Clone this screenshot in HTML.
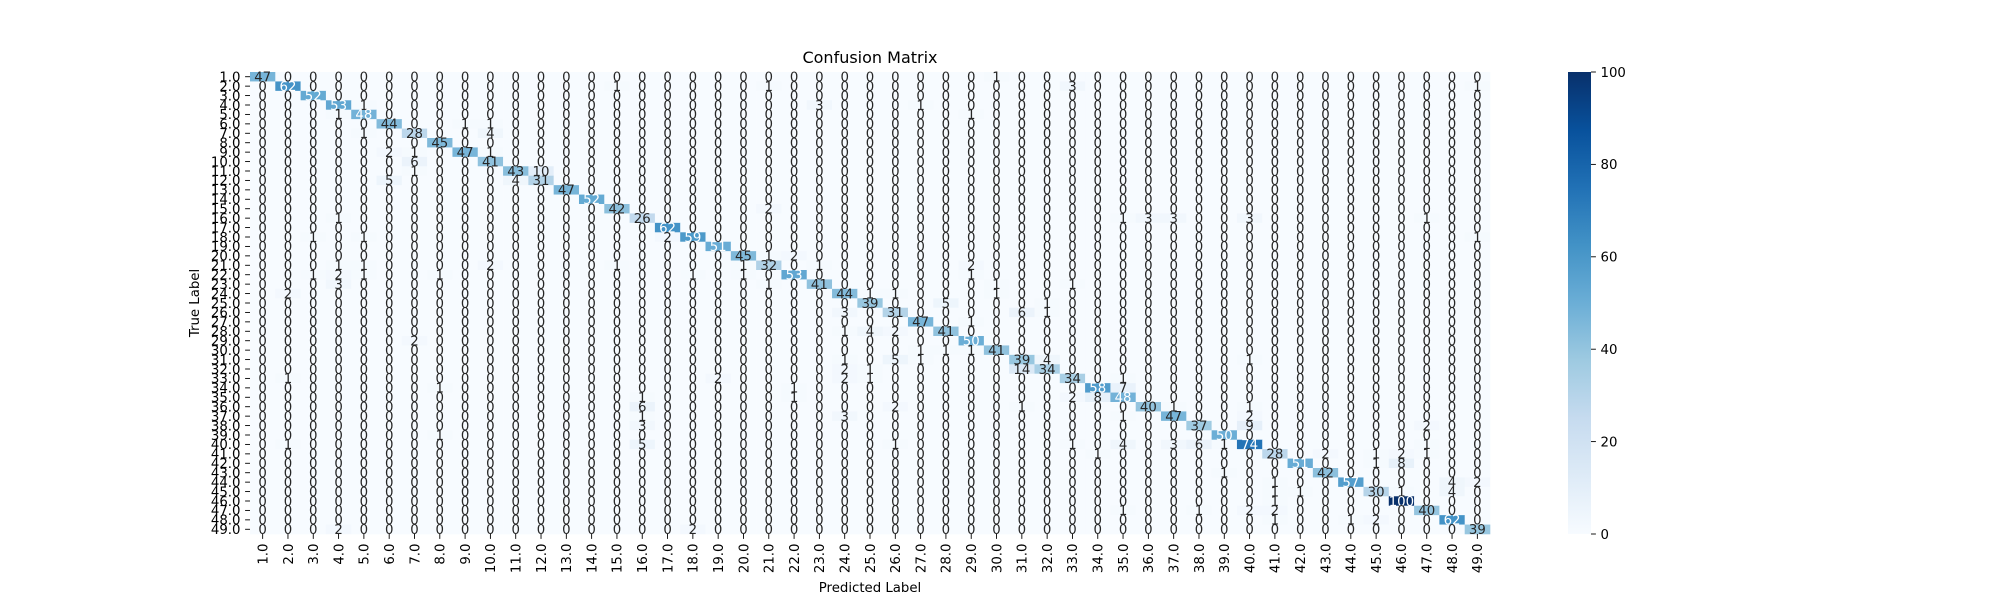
<!DOCTYPE html>
<html><head><meta charset="utf-8"><style>
html,body{margin:0;padding:0;background:#fff;}
svg{display:block;font-family:"DejaVu Sans","Liberation Sans",sans-serif;}
</style></head><body>
<svg id="chart" width="2000" height="600" viewBox="0 0 2000 600" xmlns="http://www.w3.org/2000/svg">
<text x="870" y="63" font-size="16" text-anchor="middle">Confusion Matrix</text>
<text x="870" y="592" font-size="13.3" text-anchor="middle">Predicted Label</text>
<text x="0" y="0" font-size="13.3" text-anchor="middle" transform="translate(199,303) rotate(-90)">True Label</text>
<g id="cells"></g>
<g id="annots"></g>
<g id="yticks"></g>
<g id="xticks"></g>
<g id="cbar"></g>
</svg>
<script>
const labels = [];
for (let i = 1; i <= 49; i++) labels.push(i.toFixed(1));
const diagonal = [47,62,52,53,48,44,28,45,47,41,43,31,47,52,42,26,62,59,51,45,32,53,41,44,39,31,47,41,50,41,39,34,34,58,48,40,47,37,50,74,28,51,42,57,30,100,40,62,39];
// [trueRow, predictedCol, count] (1-based)
const offDiagonal = [
[1,30,1],
[2,15,1],[2,21,1],[2,33,3],[2,49,1],
[4,5,1],[4,23,3],[4,27,1],
[5,4,1],[5,29,1],
[6,9,1],[6,10,1],
[7,5,1],[7,10,4],
[9,6,2],[9,7,1],[9,10,1],
[10,7,6],
[11,7,1],[11,12,10],
[12,6,5],[12,11,4],
[15,21,2],
[16,4,1],[16,35,1],[16,36,3],[16,37,3],[16,40,3],[16,47,1],
[18,3,1],[18,5,1],[18,17,2],[18,49,1],
[20,21,1],[20,22,2],
[21,4,1],[21,5,1],[21,10,2],[21,15,1],[21,20,1],[21,23,1],[21,29,2],
[22,3,1],[22,4,2],[22,5,1],[22,8,1],[22,18,1],[22,20,1],[22,29,1],
[23,4,3],[23,21,1],[23,30,1],[23,33,1],
[24,2,2],[24,25,1],[24,26,1],[24,30,1],
[25,28,5],[25,32,1],
[26,24,3],[26,31,6],[26,32,1],
[27,29,1],
[28,24,1],[28,25,4],[28,26,2],
[29,7,2],
[30,27,1],[30,28,1],[30,29,1],
[31,24,1],[31,26,5],[31,27,1],[31,32,4],[31,40,1],
[32,24,2],[32,25,1],[32,31,14],
[33,2,1],[33,19,2],[33,24,2],[33,25,1],[33,35,1],
[34,8,1],[34,22,1],[34,35,7],
[35,16,1],[35,22,1],[35,33,2],[35,34,8],
[36,16,6],[36,26,2],[36,31,1],[36,37,1],[36,40,1],
[37,16,1],[37,24,3],[37,35,1],[37,40,2],
[38,16,3],[38,40,9],[38,47,2],
[39,8,1],
[40,2,1],[40,16,5],[40,26,1],[40,33,1],[40,35,4],[40,37,3],[40,38,6],[40,39,1],[40,47,1],
[41,34,1],[41,43,2],[41,45,1],[41,46,2],[41,47,1],
[42,45,1],[42,46,8],
[43,39,1],
[44,41,1],[44,48,4],[44,49,2],
[45,41,1],[45,42,1],[45,46,1],[45,48,4],
[46,41,1],
[47,35,1],[47,38,1],[47,40,2],[47,41,2],
[48,41,1],[48,44,1],[48,45,2],
[49,4,2],[49,18,2]
];
const cbTicks = [0,20,40,60,80,100];
const vmin = 0, vmax = 100;

const NS = "http://www.w3.org/2000/svg";
const X0 = 250, X1 = 1490, Y0 = 72, Y1 = 534;
const n = labels.length;
const cw = (X1 - X0) / n, ch = (Y1 - Y0) / n;
const xAt = c => X0 + c * cw;
const yAt = r => Y0 + r * ch;
const stops = [[247,251,255],[222,235,247],[198,219,239],[158,202,225],[107,174,214],[66,146,198],[33,113,181],[8,81,156],[8,48,107]];
function cmap(v){
  let t = Math.max(0, Math.min(1, (v - vmin) / (vmax - vmin))) * (stops.length - 1);
  const i = Math.min(stops.length - 2, Math.floor(t)); const f = t - i;
  return stops[i].map((a, k) => Math.round(a + (stops[i+1][k] - a) * f));
}
function lum(rgb){
  const c = rgb.map(x => { x /= 255; return x <= 0.03928 ? x / 12.92 : Math.pow((x + 0.055) / 1.055, 2.4); });
  return 0.2126*c[0] + 0.7152*c[1] + 0.0722*c[2];
}
function el(tag, attrs, parent){
  const e = document.createElementNS(NS, tag);
  for (const k in attrs) e.setAttribute(k, attrs[k]);
  parent.appendChild(e); return e;
}
const M = [];
for (let r = 0; r < n; r++){ M.push(new Array(n).fill(0)); M[r][r] = diagonal[r]; }
offDiagonal.forEach(e => { if (M[e[0]-1]) M[e[0]-1][e[1]-1] = e[2]; });

const gc = document.getElementById('cells'), ga = document.getElementById('annots');
for (let r = 0; r < n; r++){
  for (let c = 0; c < n; c++){
    const v = M[r][c]; const col = cmap(v);
    const rect = el('rect', {x: xAt(c), y: yAt(r), width: cw + 0.3, height: ch + 0.3, fill: `rgb(${col.join(',')})`}, gc);
    
    
    const t = el('text', {x: xAt(c) + cw/2, y: yAt(r) + ch/2 + 4.8, 'font-size': 13.3, 'text-anchor': 'middle', fill: lum(col) > 0.408 ? '#262626' : '#ffffff'}, ga);
    
    
    t.textContent = v;
  }
}
const gy = document.getElementById('yticks'), gx = document.getElementById('xticks');
for (let i = 0; i < n; i++){
  const yc = yAt(i) + ch/2;
  el('line', {x1: X0 - 4.9, x2: X0, y1: yc, y2: yc, stroke: '#000', 'stroke-width': 0.9}, gy);
  const ty = el('text', {x: X0 - 9.5, y: yc + 4.8, 'font-size': 13.3, 'text-anchor': 'end'}, gy);
  
  
  ty.textContent = labels[i];
  const xc = xAt(i) + cw/2;
  el('line', {x1: xc, x2: xc, y1: Y1, y2: Y1 + 4.9, stroke: '#000', 'stroke-width': 0.9}, gx);
  const tx = el('text', {x: 0, y: 0, 'font-size': 13.3, 'text-anchor': 'end', transform: `translate(${xc + 4.8},${Y1 + 9.5}) rotate(-90)`}, gx);
  
  
  tx.textContent = labels[i];
}
const gb = document.getElementById('cbar');
const CX0 = 1568, CX1 = 1591;
const defs = el('defs', {}, gb);
const grad = el('linearGradient', {id: 'cbg', x1: 0, y1: 1, x2: 0, y2: 0}, defs);
stops.forEach((s, i) => el('stop', {offset: i / (stops.length - 1), 'stop-color': `rgb(${s.join(',')})`}, grad));
const cbRect = el('rect', {x: CX0, y: Y0, width: CX1 - CX0, height: Y1 - Y0, fill: 'url(#cbg)'}, gb);


cbTicks.forEach(v => {
  const y = Y1 - (v - vmin) / (vmax - vmin) * (Y1 - Y0);
  el('line', {x1: CX1, x2: CX1 + 4.9, y1: y, y2: y, stroke: '#000', 'stroke-width': 0.9}, gb);
  const t = el('text', {x: CX1 + 9.5, y: y + 4.8, 'font-size': 13.3}, gb);
  
  
  t.textContent = v;
});
</script>
</body></html>
